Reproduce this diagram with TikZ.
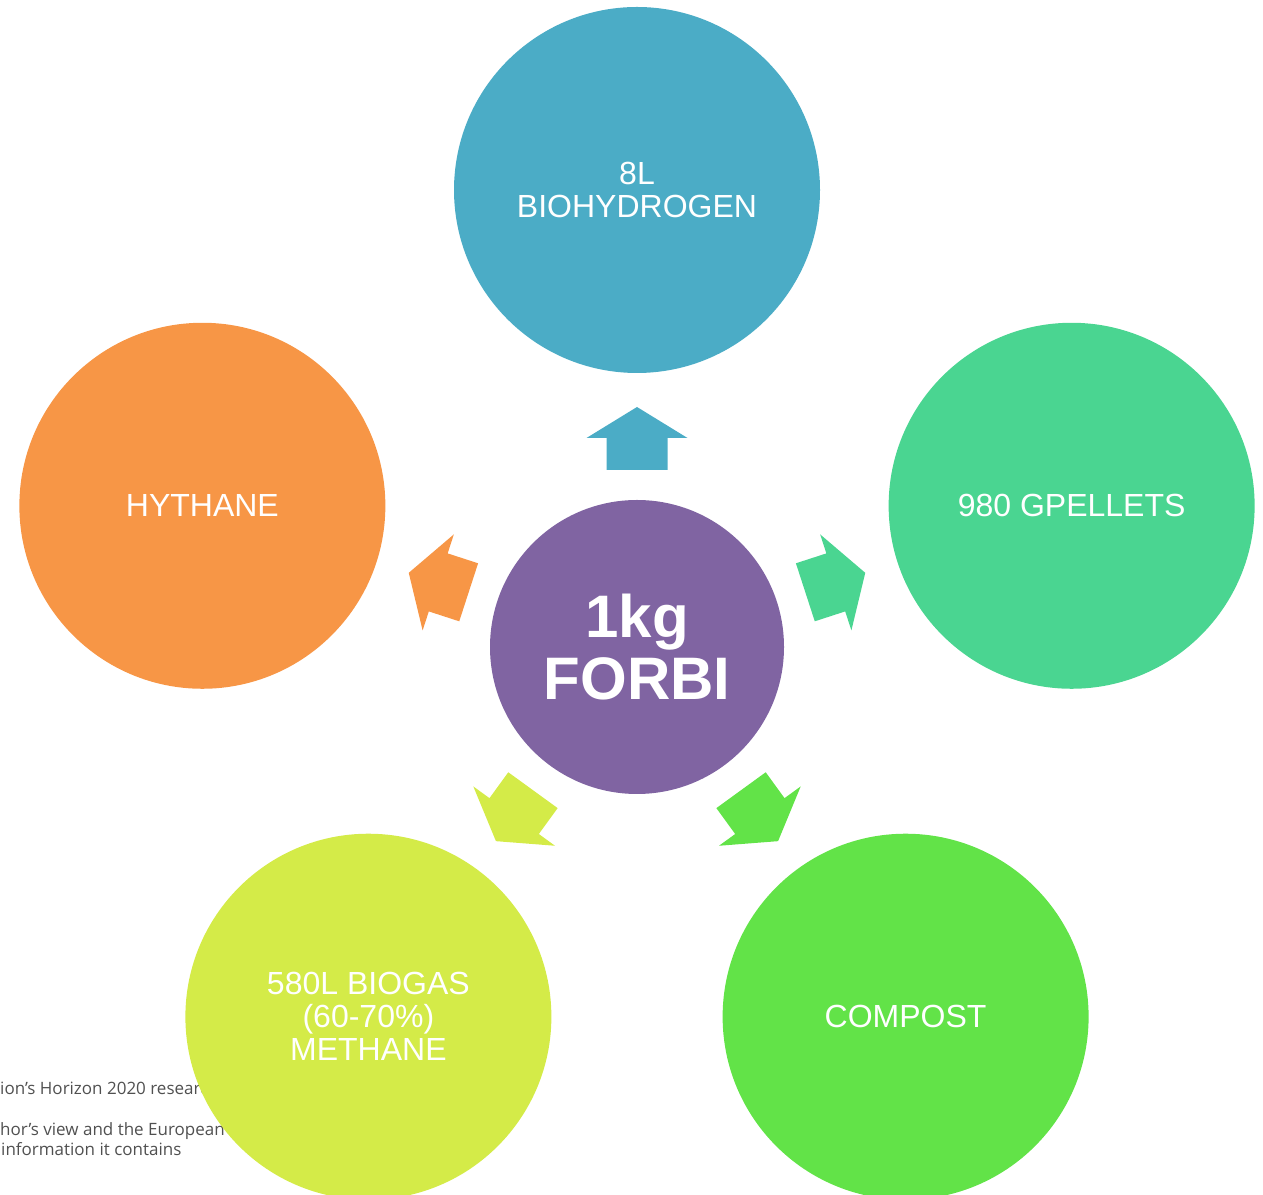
\documentclass[tikz,border=0pt]{standalone}
\usepackage{fontspec}
\setmainfont{Liberation Sans}
\newfontfamily\footfont{Open Sans}
\definecolor{cBlue}{RGB}{75,172,198}
\definecolor{cTeal}{RGB}{74,213,145}
\definecolor{cGreen}{RGB}{98,227,72}
\definecolor{cLime}{RGB}{212,235,72}
\definecolor{cOrange}{RGB}{247,150,70}
\definecolor{cPurple}{RGB}{128,100,162}
\definecolor{cFoot}{RGB}{80,80,80}
\tikzset{
  outer/.style={circle, minimum size=366pt, inner sep=0pt, align=center, text=white,
    font=\fontsize{32}{33}\selectfont},
  inner/.style={circle, minimum size=294pt, inner sep=0pt, align=center, text=white,
    font=\fontsize{60}{62}\selectfont\bfseries},
  foot/.style={anchor=west, inner sep=0pt, text=cFoot, font=\footfont\fontsize{17}{18}\selectfont}
}
\begin{document}
\begin{tikzpicture}[x=1pt,y=1pt]
\useasboundingbox (0,0) rectangle (1263,1194);
\begin{scope}
\clip (0,0) rectangle (1263,1194);
% footer fragments (partly hidden behind the circle)
\node[foot] (f1) at (0,106) {ion’s Horizon 2020 research};
\node[foot] (f2) at (0,63) {hor’s view and the European};
\node[foot] (f3) at (1,45) {information it contains};
% centre
\node[inner, fill=cPurple] (c) at (637,547) {1kg\\FORBI};
% outer circles
\node[outer, fill=cBlue]   (top) at ([shift={(90:457)}]c.center) {8L\\BIOHYDROGEN};
\node[outer, fill=cTeal]   (rgt) at ([shift={(18:457)}]c.center) {980 GPELLETS};
\node[outer, fill=cGreen]  (br)  at ([shift={(306:457)}]c.center) {COMPOST};
\node[outer, fill=cLime]   (bl)  at ([shift={(234:457)}]c.center) {580L BIOGAS\\(60-70\%)\\METHANE};
\node[outer, fill=cOrange] (lft) at ([shift={(162:457)}]c.center) {HYTHANE};
% arrows
\foreach \a/\col in {90/cBlue, 18/cTeal, 306/cGreen, 234/cLime, 162/cOrange}{
  \begin{scope}[shift={(c.center)}, rotate=\a-90]
    \fill[\col] (-30.5,177) -- (30.5,177) -- (30.5,209) -- (50.5,209) -- (0,240)
      -- (-50.5,209) -- (-30.5,209) -- cycle;
  \end{scope}
}
\end{scope}
\end{tikzpicture}
\end{document}
